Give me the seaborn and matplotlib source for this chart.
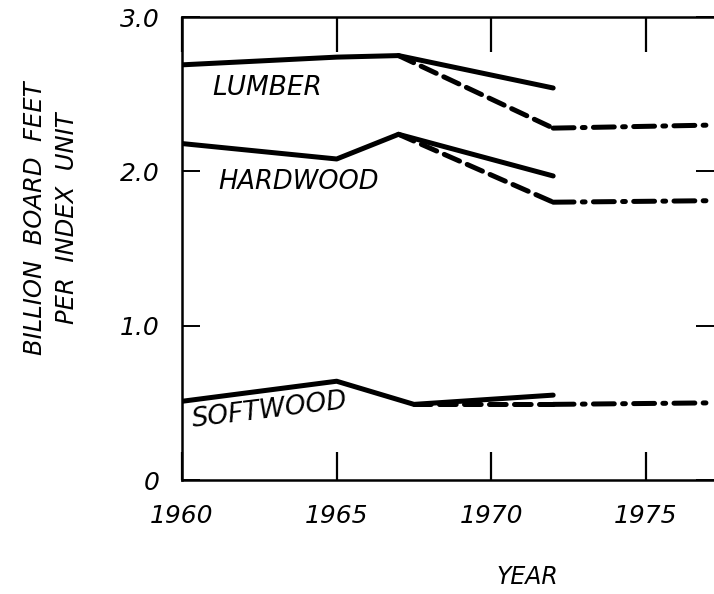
import matplotlib
matplotlib.use("Agg")
import pandas as pd
import seaborn as sns
import matplotlib.pyplot as plt

# values (billion board feet per index unit)
lumber_solid_x = [1960, 1965, 1967, 1972]
lumber_solid_y = [2.69, 2.74, 2.75, 2.54]
lumber_dash_x = [1967, 1972]
lumber_dash_y = [2.75, 2.28]
lumber_dashdot_x = [1972, 1977.2]
lumber_dashdot_y = [2.28, 2.30]

hardwood_solid_x = [1960, 1965, 1967, 1972]
hardwood_solid_y = [2.18, 2.08, 2.24, 1.97]
hardwood_dash_x = [1967, 1972]
hardwood_dash_y = [2.24, 1.80]
hardwood_dashdot_x = [1972, 1977.2]
hardwood_dashdot_y = [1.80, 1.81]

softwood_solid_x = [1960, 1965, 1967.5, 1972]
softwood_solid_y = [0.51, 0.64, 0.49, 0.55]
softwood_dash_x = [1967.5, 1972]
softwood_dash_y = [0.49, 0.49]
softwood_dashdot_x = [1972, 1977.2]
softwood_dashdot_y = [0.49, 0.50]

x_ticks = [1960, 1965, 1970, 1975]
y_ticks = [0, 1.0, 2.0, 3.0]
y_ticklabels = ["0", "1.0", "2.0", "3.0"]

sns.set_style("white")
plt.rcParams["font.family"] = ["DejaVu Sans"]
plt.rcParams["text.color"] = "black"
plt.rcParams["xtick.labelcolor"] = "black"
plt.rcParams["ytick.labelcolor"] = "black"
plt.rcParams["lines.scale_dashes"] = False

fig = plt.figure(figsize=(7.14, 5.94), dpi=100)
ax = fig.add_axes([182 / 714, 114 / 594, 532 / 714, 463 / 594])

styles = {
    "solid": dict(linestyle="-"),
    "dash": dict(dashes=(12, 6)),
    "dashdot": dict(dashes=(15, 6, 2, 6)),
}

def seg(xs, ys, kind):
    df = pd.DataFrame({"year": xs, "value": ys})
    sns.lineplot(data=df, x="year", y="value", ax=ax, color="black",
                 linewidth=3.6, estimator=None, sort=False,
                 solid_capstyle="round", dash_capstyle="round",
                 **styles[kind])

seg(lumber_solid_x, lumber_solid_y, "solid")
seg(lumber_dash_x, lumber_dash_y, "dash")
seg(lumber_dashdot_x, lumber_dashdot_y, "dashdot")
seg(hardwood_solid_x, hardwood_solid_y, "solid")
seg(hardwood_dash_x, hardwood_dash_y, "dash")
seg(hardwood_dashdot_x, hardwood_dashdot_y, "dashdot")
seg(softwood_solid_x, softwood_solid_y, "solid")
seg(softwood_dash_x, softwood_dash_y, "dash")
seg(softwood_dashdot_x, softwood_dashdot_y, "dashdot")

ax.set_xlim(1960, 1977.2)
ax.set_ylim(0, 3.0)
ax.set_xlabel("")
ax.set_ylabel("")

for side in ["left", "top", "bottom"]:
    ax.spines[side].set_linewidth(1.8)
    ax.spines[side].set_color("black")
ax.spines["right"].set_visible(False)

ax.set_xticks(x_ticks)
ax.set_xticklabels([str(x) for x in x_ticks], fontsize=18, style="italic")
ax.set_yticks(y_ticks)
ax.set_yticklabels(y_ticklabels, fontsize=18, style="italic")
ax.tick_params(axis="x", direction="in", top=True, bottom=True, length=20,
               width=1.6, pad=17, color="black")
ax.tick_params(axis="y", direction="in", left=True, right=True, length=13,
               width=1.4, pad=16, color="black")
for t in ax.xaxis.get_major_ticks():
    t.tick2line.set_markersize(25)

ax.text(1960.97, 2.54, "LUMBER", fontsize=19, style="italic", va="center")
ax.text(1961.17, 1.93, "HARDWOOD", fontsize=18.5, style="italic", va="center")
ax.text(1960.26, 0.45, "SOFTWOOD", fontsize=19, style="italic", va="center",
        rotation=7)

fig.text(51 / 714, 1 - 218 / 594, "BILLION  BOARD  FEET\nPER  INDEX  UNIT",
         rotation=90, ha="center", va="center", fontsize=17.5, style="italic",
         multialignment="center", linespacing=1.45)
fig.text(527 / 714, 1 - 577 / 594, "YEAR", ha="center", va="center",
         fontsize=17, style="italic")

fig.savefig("out.png", dpi=100)
